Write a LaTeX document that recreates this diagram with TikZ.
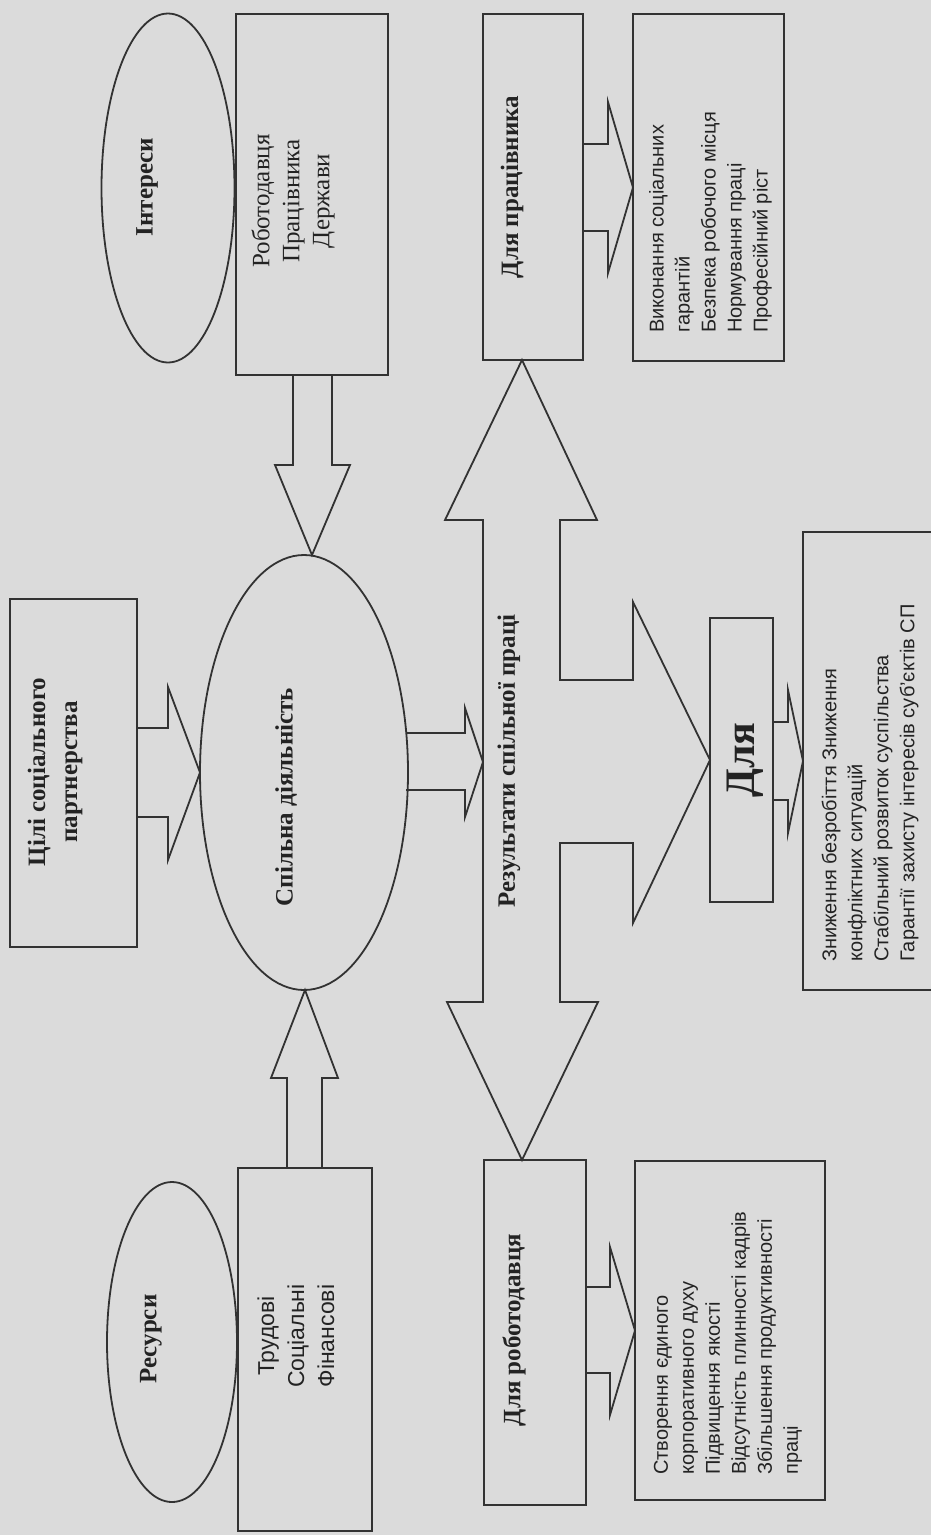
\documentclass[tikz,border=0pt]{standalone}
\usepackage{fontspec}
\setmainfont{Liberation Serif}
\newfontfamily\sansf{Liberation Sans}
\usetikzlibrary{shapes.geometric}
\definecolor{bgc}{RGB}{219,219,219}
\definecolor{linec}{RGB}{50,50,50}
\definecolor{txtc}{RGB}{35,35,35}
\begin{document}
\begin{tikzpicture}[x=1pt,y=-1pt,
  ln/.style={draw=linec, line width=1.8pt, line join=miter},
  shp/.style={draw=linec, line width=1.8pt, inner sep=0pt, outer sep=0pt},
  lbl/.style={rotate=90, text=txtc, inner sep=0pt, font=\bfseries\fontsize{25}{30}\selectfont},
  lst/.style={rotate=90, align=left, anchor=west, inner sep=0pt, text=txtc, font=\sansf\fontsize{20}{26}\selectfont}]
\useasboundingbox (0,0) rectangle (931,1535);
\fill[bgc] (0,0) rectangle (931,1535);

% shapes
\node[shp, ellipse, minimum width=133pt, minimum height=349pt] (intE) at (168,188) {};
\node[shp, rectangle, minimum width=152pt, minimum height=361pt] (robB) at (312,194.5) {};
\node[shp, rectangle, minimum width=127pt, minimum height=348pt] (cilB) at (73.5,773) {};
\node[shp, ellipse, minimum width=208pt, minimum height=435pt] (spE) at (304,772.5) {};
\node[shp, ellipse, minimum width=130pt, minimum height=320pt] (resE) at (172,1342) {};
\node[shp, rectangle, minimum width=134pt, minimum height=363pt] (trB) at (305,1349.5) {};
\node[shp, rectangle, minimum width=100pt, minimum height=346pt] (dpB) at (533,187) {};
\node[shp, rectangle, minimum width=151pt, minimum height=347pt] (vkB) at (708.5,187.5) {};
\node[shp, rectangle, minimum width=102pt, minimum height=345pt] (drB) at (535,1332.5) {};
\node[shp, rectangle, minimum width=190pt, minimum height=339pt] (stB) at (730,1330.5) {};
\node[shp, rectangle, minimum width=63pt, minimum height=284pt] (dlB) at (741.5,760) {};
\node[inner sep=0pt, outer sep=0pt, minimum width=128pt, minimum height=458pt] (znB) at (867,761) {};
\draw[ln] (znB.north east) -- (znB.north west) -- (znB.south west) -- (znB.south east);
\coordinate (rzL) at (483,762);

% texts
\node[lbl] (intT) at (147,187) {Інтереси};
\node[lbl, align=center, font=\fontsize{25}{30}\selectfont] (robT) at (293,201) {Роботодавця\\Працівника\\Держави};
\node[lbl, align=center, font=\bfseries\fontsize{25}{32}\selectfont] (cilT) at (55,772) {Цілі соціального\\партнерства};
\node[lbl] (spT) at (286,797) {Спільна діяльність};
\node[lbl] (resT) at (151,1339) {Ресурси};
\node[lbl, align=center, font=\sansf\fontsize{23}{30}\selectfont] (trT) at (296,1336) {Трудові\\Соціальні\\Фінансові};
\node[lbl] (rzT) at (509,761) {Результати спільної праці};
\node[lbl] (dpT) at (512,187) {Для працівника};
\node[lbl] (drT) at (514,1330) {Для роботодавця};
\node[lbl, font=\bfseries\fontsize{42}{48}\selectfont] (dlT) at (745,760) {Для};
\node[lst] (vkT) at (710.5,333) {Виконання соціальних\\гарантій\\Безпека робочого місця\\Нормування праці\\Професійний ріст};
\node[lst] (stT) at (728,1475) {Створення єдиного\\корпоративного духу\\Підвищення якості\\Відсутність плинності кадрів\\Збільшення продуктивності\\праці};
\node[lst] (znT) at (870,962) {Зниження безробіття Зниження\\конфліктних ситуацій\\Стабільний розвиток суспільства\\Гарантії захисту інтересів суб’єктів СП};

% block arrows
\draw[ln] ([xshift=-19pt]robB.south) -- ++(0,90) -- ++(-18,0) -- ([xshift=8pt]spE.north) -- ++(38,-90) -- ++(-18,0) -- ([xshift=20pt]robB.south);
\draw[ln] ([xshift=-18pt]trB.north) -- ++(0,-90) -- ++(-16,0) -- ([xshift=1pt]spE.south) -- ++(33,88) -- ++(-16,0) -- ([xshift=17pt]trB.north);
\draw[ln] ([yshift=45pt]cilB.east) -- ++(31,0) -- ++(0,-41) -- (spE.west) -- ++(-32,87.5) -- ++(0,-43) -- ([yshift=-44pt]cilB.east);
\draw[ln] ([xshift=-2pt,yshift=39.5pt]spE.east) -- ++(59,0) -- ++(0,-25) -- (rzL) -- ++(-18,55) -- ++(0,-27) -- ([xshift=-2pt,yshift=-17.5pt]spE.east);
\draw[ln] (483,520) -- (445,520) -- ([xshift=-11pt]dpB.south) -- (597,520) -- (560,520) -- (560,680) -- (633,680) -- (633,602) -- (dlB.west) -- (633,923) -- (633,843) -- (560,843) -- (560,1002) -- (598,1002) -- ([xshift=-13pt]drB.north) -- (447,1002) -- (483,1002) -- cycle;
\draw[ln] ([yshift=43pt]dpB.east) -- ++(25,0) -- ++(0,-42) -- (vkB.west) -- ++(-25,85.5) -- ++(0,-42) -- ([yshift=-44pt]dpB.east);
\draw[ln] ([yshift=45.5pt]drB.east) -- ++(24,0) -- ++(0,-40) -- (stB.west) -- ++(-25,84.5) -- ++(0,-42) -- ([yshift=-40.5pt]drB.east);
\draw[ln] ([yshift=38pt]dlB.east) -- ++(15,0) -- ++(0,-32) -- (znB.west) -- ++(-15,72) -- ++(0,-33) -- ([yshift=-40pt]dlB.east);
\end{tikzpicture}
\end{document}
